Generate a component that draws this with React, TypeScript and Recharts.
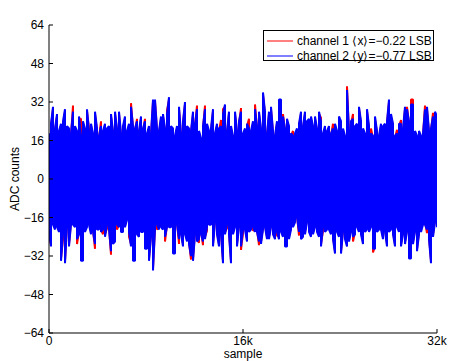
import React from 'react';
import { LineChart, Line, XAxis, YAxis } from 'recharts';

// ---- axis / text content ----
const TITLE = 'bypass mode: correlated noise';
const X_LABEL = 'sample';
const Y_LABEL = 'ADC counts';
const SAMPLE_COUNT = 32768;
const xTickValues = [0, 16384, 32768];
const xTickLabels = ['0', '16k', '32k'];
const yTickValues = [-64, -48, -32, -16, 0, 16, 32, 48, 64];
const yTickLabels = ['\u221264', '\u221248', '\u221232', '\u221216', '0', '16', '32', '48', '64'];
const seriesNames = [
  'channel 1 \u27E8x\u27E9=\u22120.22 LSB',
  'channel 2 \u27E8y\u27E9=\u22120.77 LSB',
];
const seriesColors = ['#ff0000', '#0000ff'];

// ---- envelope of the noise traces, read per 2-pixel column (195 columns over 0..32k) ----
const ch2High = [
  19, 23, 30, 21, 27, 20, 23, 24, 29, 22,
  21, 19, 28, 22, 20, 26, 18, 24, 21, 29,
  20, 23, 19, 28, 21, 18, 22, 20, 23, 21,
  22, 27, 20, 28, 21, 28, 19, 22, 26, 20,
  23, 30, 22, 21, 24, 20, 26, 21, 24, 19,
  22, 19, 33, 33, 21, 20, 26, 27, 21, 27,
  34, 22, 21, 18, 22, 30, 19, 24, 32, 22,
  21, 20, 28, 23, 29, 20, 17, 22, 29, 23,
  20, 21, 29, 19, 23, 21, 22, 27, 31, 20,
  28, 22, 18, 28, 20, 24, 28, 19, 21, 23,
  21, 20, 24, 29, 22, 28, 21, 36, 28, 19,
  28, 30, 20, 18, 24, 33, 33, 26, 21, 25,
  22, 19, 18, 19, 21, 23, 28, 22, 28, 24,
  25, 26, 22, 26, 21, 28, 24, 19, 22, 20,
  22, 19, 21, 23, 20, 26, 24, 21, 18, 37,
  20, 24, 25, 22, 23, 30, 24, 21, 19, 29,
  22, 19, 18, 26, 20, 18, 23, 22, 23, 24,
  33, 27, 23, 18, 19, 23, 23, 21, 30, 29,
  24, 31, 31, 20, 18, 20, 18, 19, 29, 30,
  20, 21, 26, 28, 26,
];
const ch2Low = [
  -22, -28, -19, -21, -20, -22, -34, -23, -35, -20,
  -28, -19, -19, -20, -25, -23, -34, -34, -22, -20,
  -19, -23, -22, -27, -21, -21, -22, -21, -24, -19,
  -21, -30, -27, -26, -19, -20, -22, -22, -20, -17,
  -22, -28, -34, -34, -23, -24, -22, -22, -29, -29,
  -34, -24, -38, -21, -19, -21, -20, -21, -24, -20,
  -20, -20, -31, -31, -19, -25, -23, -28, -23, -26,
  -27, -32, -34, -23, -26, -25, -23, -26, -25, -20,
  -19, -19, -28, -18, -23, -28, -23, -35, -23, -19,
  -23, -35, -23, -20, -28, -20, -28, -21, -21, -26,
  -22, -21, -20, -22, -22, -26, -27, -21, -20, -25,
  -25, -20, -23, -25, -22, -25, -22, -24, -28, -28,
  -25, -21, -20, -18, -16, -22, -25, -24, -23, -18,
  -22, -24, -23, -20, -22, -24, -28, -20, -22, -21,
  -21, -23, -25, -31, -22, -24, -31, -22, -25, -28,
  -26, -22, -24, -23, -20, -22, -23, -27, -22, -21,
  -22, -20, -29, -29, -22, -21, -21, -25, -22, -28,
  -22, -21, -23, -28, -20, -22, -28, -23, -27, -22,
  -33, -33, -27, -22, -30, -23, -22, -19, -19, -21,
  -25, -35, -24, -18, -20,
];
const ch1High = [
  18, 22, 29, 20, 26, 19, 22, 22, 28, 21,
  20, 18, 30.5, 21, 19, 25, 25, 23, 20, 28,
  21, 22, 18, 27, 20, 17, 24, 19, 22, 20,
  21, 26, 19, 27, 20, 27, 18, 21, 25, 19,
  22, 31.5, 21, 20, 25, 19, 25, 20, 25, 18,
  21, 18, 32, 32, 20, 19, 25, 26, 20, 28.5,
  33, 21, 20, 17, 21, 29, 18, 23, 31, 21,
  20, 19, 27, 22, 30.5, 19, 16, 21, 30.5, 22,
  19, 20, 28, 18, 22, 20, 24.5, 29, 30, 19,
  27, 21, 17, 27, 19, 23, 29.5, 18, 20, 22,
  25, 19, 23, 31, 21, 27, 20, 35, 27, 18,
  27, 29, 19, 17, 23, 32, 32, 27, 20, 24,
  21, 18, 20, 18, 20, 22, 27, 21, 27, 23,
  24, 25, 21, 25, 20, 27, 25.5, 18, 21, 19,
  21, 18, 23, 22, 19, 25, 23, 20, 17, 38.5,
  19, 23, 27, 21, 22, 29, 23, 20, 18, 28,
  21, 21, 17, 25, 19, 17, 22, 21, 22, 23,
  32, 26, 22, 17, 20.5, 22, 24.5, 20, 29, 30,
  23, 33, 33, 19, 17, 19, 17, 18, 30.5, 29,
  19, 20, 27.5, 27, 25,
];
const ch1Low = [
  -24, -27, -18, -20, -19, -21, -33, -25, -34, -19,
  -27, -18, -18, -19, -27, -22, -33, -33, -21, -19,
  -18, -22, -21, -29, -20, -20, -21, -23, -23, -20.5,
  -20, -31.5, -26, -25, -21, -19, -21, -21, -19, -16,
  -24, -27, -33, -33, -22, -23, -21, -21, -28, -28,
  -33, -23, -37, -20, -21, -20, -19, -20, -26, -19,
  -19, -19, -30, -30, -18, -27, -22, -27, -22, -25,
  -26, -33.5, -33, -22, -25, -26.5, -22, -27.5, -24, -21.5,
  -18, -18, -27, -17, -22, -27, -22, -34, -22, -20.5,
  -22, -34, -22, -19, -27, -19, -29.5, -22.5, -20, -25,
  -21, -20, -21.5, -21, -21, -27.5, -26, -20, -19, -24,
  -24, -19, -22, -24, -23.5, -24, -21, -23, -27, -27,
  -24, -20, -19, -17, -15, -23.5, -24, -23, -22, -17,
  -21, -23, -22, -19, -21, -23, -27, -21.5, -21, -20,
  -20, -22, -24, -30, -21, -23, -30, -21, -24, -27,
  -25, -21, -26, -22, -19, -21, -22, -26, -21, -20,
  -21, -19, -30.5, -28, -21, -20, -20, -24, -21, -27,
  -21, -20, -22, -27, -19, -21, -27, -22, -26, -21,
  -32, -32, -26, -21, -29, -22, -21, -18, -18, -22.5,
  -24, -34, -23, -17, -19,
];

// each column contributes its high and low sample; alternating order keeps the trace dense
const buildTrace = (high: number[], low: number[]) => {
  const n = Math.min(high.length, low.length);
  const pts: { s: number; v: number }[] = [];
  for (let i = 0; i < n; i++) {
    const s = (i * SAMPLE_COUNT) / (n - 1);
    if (i % 2 === 0) {
      pts.push({ s, v: high[i] });
      pts.push({ s, v: low[i] });
    } else {
      pts.push({ s, v: low[i] });
      pts.push({ s, v: high[i] });
    }
  }
  return pts;
};

const ch1Data = buildTrace(ch1High, ch1Low);
const ch2Data = buildTrace(ch2High, ch2Low);

const FONT = '"Liberation Sans", Arial, Helvetica, sans-serif';

const xFmt = (v: number) => {
  const k = xTickValues.indexOf(v);
  return k >= 0 ? xTickLabels[k] : String(v);
};
const yFmt = (v: number) => {
  const k = yTickValues.indexOf(v);
  return k >= 0 ? yTickLabels[k] : String(v);
};

const LegendBox = () => (
  <div
    style={{
      position: 'absolute',
      left: 263,
      top: 30,
      boxSizing: 'border-box',
      width: 171,
      height: 31,
      border: '1px solid #000',
      background: '#fff',
      fontFamily: FONT,
      fontSize: 12,
      color: '#000',
    }}
  >
    {seriesNames.map((name, k) => (
      <div
        key={k}
        style={{
          position: 'absolute',
          left: 3,
          top: k === 0 ? 3 : 17.5,
          height: 14,
          display: 'flex',
          alignItems: 'center',
          whiteSpace: 'nowrap',
        }}
      >
        <svg width={26} height={14} style={{ display: 'block' }}>
          <line x1={0} x2={26} y1={7} y2={7} stroke={seriesColors[k]} strokeWidth={1} />
        </svg>
        <span style={{ marginLeft: 4, lineHeight: '14px' }}>{name}</span>
      </div>
    ))}
  </div>
);

export default function App() {
  const tickStyle = { fontSize: 12, fill: '#000', fontFamily: FONT };
  return (
    <div style={{ position: 'absolute', left: 0, top: 0, width: 449, height: 361, fontFamily: FONT, background: '#fff' }}>
      <LineChart
        width={449}
        height={361}
        margin={{ top: 25, right: 12, bottom: 0, left: 0 }}
        style={{ fontFamily: FONT }}
      >
        <XAxis
          dataKey="s"
          type="number"
          domain={[0, SAMPLE_COUNT]}
          ticks={xTickValues}
          tickFormatter={xFmt}
          allowDataOverflow
          height={28}
          stroke="#000"
          tickSize={-4}
          tickMargin={7}
          tick={tickStyle}
          label={{ value: X_LABEL, position: 'insideBottom', offset: 3, fill: '#000', fontSize: 12, fontFamily: FONT }}
        />
        <XAxis
          xAxisId="top"
          orientation="top"
          dataKey="s"
          type="number"
          domain={[0, SAMPLE_COUNT]}
          ticks={xTickValues}
          allowDataOverflow
          height={0}
          stroke="#000"
          tickSize={-4}
          tick={false}
          label={{ value: TITLE, position: 'top', offset: 9, fill: '#000', fontSize: 12, fontFamily: FONT }}
        />
        <YAxis
          type="number"
          domain={[-64, 64]}
          ticks={yTickValues}
          tickFormatter={yFmt}
          allowDataOverflow
          width={49}
          stroke="#000"
          tickSize={-4}
          tickMargin={9}
          tick={tickStyle}
          label={{
            value: Y_LABEL,
            angle: -90,
            position: 'insideLeft',
            offset: 15,
            fill: '#000',
            fontSize: 12,
            fontFamily: FONT,
            style: { textAnchor: 'middle' },
          }}
        />
        <YAxis
          yAxisId="right"
          orientation="right"
          type="number"
          domain={[-64, 64]}
          ticks={yTickValues}
          allowDataOverflow
          width={0}
          stroke="#000"
          tickSize={-4}
          tick={false}
        />
        <Line
          data={ch1Data}
          dataKey="v"
          name={seriesNames[0]}
          stroke={seriesColors[0]}
          strokeWidth={2}
          strokeLinejoin="bevel"
          dot={false}
          activeDot={false}
          isAnimationActive={false}
        />
        <Line
          data={ch2Data}
          dataKey="v"
          name={seriesNames[1]}
          stroke={seriesColors[1]}
          strokeWidth={2}
          strokeLinejoin="bevel"
          dot={false}
          activeDot={false}
          isAnimationActive={false}
        />
      </LineChart>
      <LegendBox />
    </div>
  );
}
